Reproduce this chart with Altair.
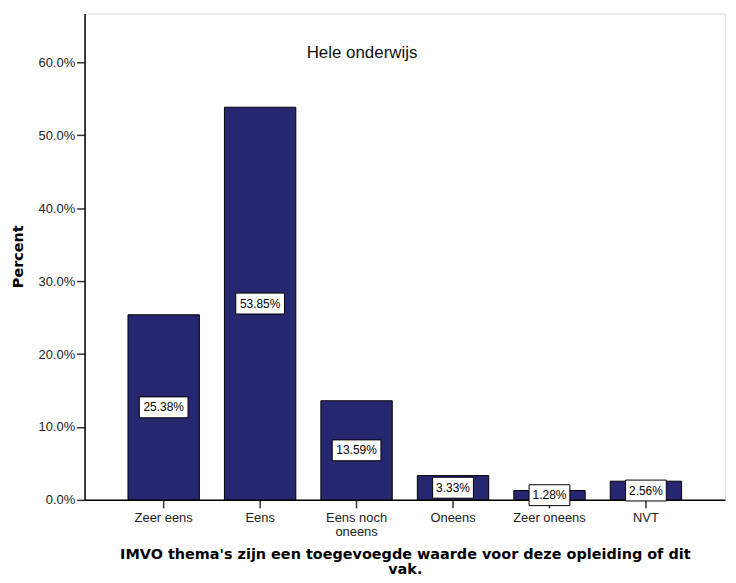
import altair as alt
import pandas as pd

categories = ["Zeer eens", "Eens", "Eens noch oneens", "Oneens", "Zeer oneens", "NVT"]
percents = [25.38, 53.85, 13.59, 3.33, 1.28, 2.56]
panel_title = ["Hele onderwijs"]
y_ticks = [0, 10, 20, 30, 40, 50, 60]

df = pd.DataFrame({"cat": categories, "pct": percents})
df["label"] = [f"{v:.2f}%" for v in percents]
df["mid"] = df["pct"] / 2

BAR = "#272771"
FONT = "Liberation Sans"
TFONT = "DejaVu Sans"

x_enc = alt.X(
    "cat:N",
    sort=categories,
    scale=alt.Scale(paddingInner=0.26, paddingOuter=0.45),
    axis=alt.Axis(
        title=["IMVO thema's zijn een toegevoegde waarde voor deze opleiding of dit", "vak."],
        titleFont=TFONT, titleFontSize=14.5, titleFontWeight="bold", titleColor="black",
        titleY=48, titleBaseline="top", titleLineHeight=15,
        labelFont=FONT, labelFontSize=13, labelColor="#222", labelAngle=0,
        labelExpr="datum.label == 'Eens noch oneens' ? ['Eens noch', 'oneens'] : datum.label",
        labelLineHeight=13.5, labelPadding=4, labelBaseline="top",
        tickSize=8, tickColor="#333", tickWidth=1.5,
        domainColor="black", domainWidth=1.5,
    ),
)

y_scale = alt.Scale(domain=[0, 66.7], nice=False)

bars = alt.Chart(df).mark_bar(color=BAR, stroke="black", strokeWidth=1).encode(
    x=x_enc,
    y=alt.Y(
        "pct:Q",
        scale=y_scale,
        axis=alt.Axis(
            title="Percent", titleFont=TFONT, titleFontSize=14.5, titleFontWeight="bold",
            titleColor="black", titleX=-66, titleY=244, titleBaseline="middle",
            values=y_ticks, labelExpr="format(datum.value, '.1f') + '%'",
            labelFont=FONT, labelFontSize=13, labelColor="#222", labelPadding=2,
            tickSize=8, tickColor="#333", tickWidth=1.5, grid=False,
            domainColor="black", domainWidth=1.5,
        ),
    ),
)

box_wide = alt.Chart(df).transform_filter("length(datum.label) >= 6").mark_bar(
    width=49, yOffset=-10.5, y2Offset=10.5, fill="white", stroke="black", strokeWidth=1
).encode(
    x=alt.X("cat:N", sort=categories),
    y=alt.Y("mid:Q", scale=y_scale),
    y2="mid:Q",
)

box_narrow = alt.Chart(df).transform_filter("length(datum.label) < 6").mark_bar(
    width=41, yOffset=-10.5, y2Offset=10.5, fill="white", stroke="black", strokeWidth=1
).encode(
    x=alt.X("cat:N", sort=categories),
    y=alt.Y("mid:Q", scale=y_scale),
    y2="mid:Q",
)

texts = alt.Chart(df).mark_text(
    font=FONT, fontSize=12, color="black", baseline="middle", align="center"
).encode(
    x=alt.X("cat:N", sort=categories),
    y=alt.Y("mid:Q", scale=y_scale),
    text="label:N",
)

title_df = pd.DataFrame({"t": panel_title})
title_mark = alt.Chart(title_df).mark_text(
    font=FONT, fontSize=17, color="#111", align="center", baseline="middle"
).encode(x=alt.value(279), y=alt.value(40), text="t:N")

chart = (
    alt.layer(bars, box_wide, box_narrow, texts, title_mark)
    .properties(
        width=644, height=489,
        autosize=alt.AutoSizeParams(type="none"),
        padding={"left": 77, "top": 4, "right": 3, "bottom": 80},
    )
    .configure_view(fill="#f0f0f0", stroke="#6e6e6e", strokeWidth=1.5)
    .configure(background="white")
)

chart.save("out.html", embed_options={"renderer": "svg", "actions": False})
